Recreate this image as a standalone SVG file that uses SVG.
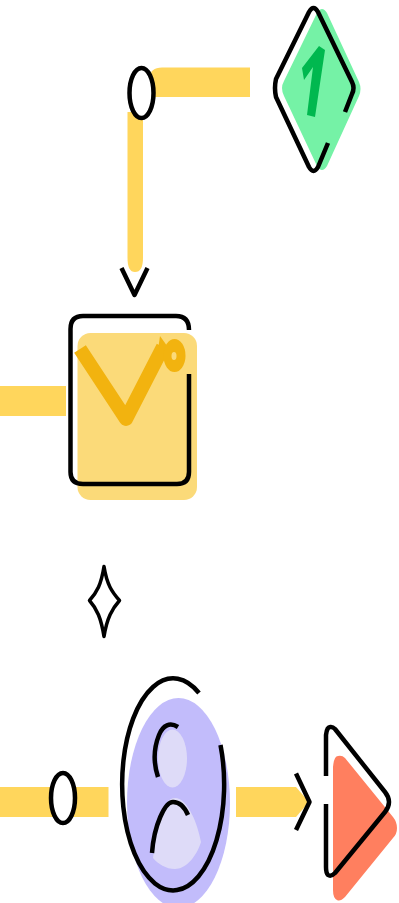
<svg xmlns="http://www.w3.org/2000/svg" width="399" height="903" viewBox="0 0 399 903">
<style>
.bar{fill:#FFD65C}
.ink{fill:none;stroke:#000;stroke-width:4.500;stroke-linecap:butt;stroke-linejoin:round}
.dot{fill:#fff;stroke:#000;stroke-width:4.500}
</style>
<rect width="399" height="903" fill="#fff"/>
<g id="connectors">
<path class="bar" d="M250 67.500V97H150V78Q150 67.500 162 67.500Z"/>
<path class="bar" d="M127.500 112H143V258Q143 272 135 272Q127.500 272 127.500 258Z"/>
<ellipse class="dot" cx="141.500" cy="93" rx="12" ry="25"/>
<path class="ink" d="M121.500 268L134.500 295L147.500 268" stroke-linejoin="miter"/>
<rect class="bar" x="0" y="386" width="66" height="30"/>
<path class="ink" d="M104 566.500C107 585 112 592 119.500 600.500C112 609 107 618 104 636.500C101 618 97 609 89.500 600.500C97 592 101 585 104 566.500Z" style="stroke-width:3.500"/>
<rect class="bar" x="0" y="787" width="108.500" height="30"/>
<ellipse class="dot" cx="63" cy="798" rx="12" ry="25"/>
<path class="bar" d="M236 787H296L309 802L296 817H236Z"/>
<path class="ink" d="M296 773.500L309.500 802L296 830" stroke-linejoin="miter"/>
</g>
<g id="node-diamond">
<path fill="#75F2A6" d="M317 13Q322 5 327 13L359 82Q362 89 359 96L327 166Q322 174 317 166L284 96Q280 88 284 81Z"/>
<path fill="#00B84F" d="M319 46L325 50L315 117L307 115L313 67L304 80L302 68Z"/>
<path class="ink" d="M345 112L352 94Q355 88 352 82L318 12Q313.500 4 309 12L276 79Q274 88 276 97L309 167Q313.500 175 318 167L328 143"/>
</g>
<g id="node-check">
<rect x="77.500" y="333" width="119.500" height="167" rx="13" fill="#FBDA79"/>
<path class="ink" d="M189 374V472Q189 484 177 484H83Q70.500 484 70.500 472V329Q70.500 316 83 316H176Q189 316 189 330"/>
<path fill="none" stroke="#F2B30F" stroke-width="14" stroke-linejoin="round" d="M80 349L126 419L163 347"/>
<path fill="#F2B30F" d="M160 336L170 350L158 350Z"/>
<ellipse cx="174.500" cy="355.500" rx="11" ry="16.500" fill="#F2B30F"/>
<ellipse cx="174" cy="356" rx="2.500" ry="4" fill="#FBDA79"/>
</g>
<g id="node-person">
<ellipse cx="178.500" cy="803" rx="51.500" ry="105" fill="#C2BCFB"/>
<ellipse cx="172.500" cy="758.500" rx="14.500" ry="29" fill="#DEDBF8"/>
<path fill="#DEDBF8" d="M153 858C158 825 162 798 175 798C188 798 198 825 201 842C196 858 185 869 175 869C166 869 158 864 153 858Z"/>
<path class="ink" d="M220.500 745A51 106 0 1 1 199 693"/>
<path class="ink" d="M178 727C170 722 163 725 159 735C153 750 154 765 158 777"/>
<path class="ink" d="M152 853C154 825 165 802 173 802C180 802 185 808 188 815"/>
</g>
<g id="node-play">
<path fill="#FF7F5F" d="M333 767Q334 756 338 756Q342 755 345 758L393 817Q397 822 397 828Q397 834 393 838L345 897Q340 902 337 900Q333 898 333 890Z"/>
<path class="ink" d="M326 776V735Q327 726 331 727Q333 727 335 729L385 792Q389 797 389 802Q389 807 385 812L335 873Q331 877 328 875Q326 873 326 867V804"/>
</g>
</svg>
